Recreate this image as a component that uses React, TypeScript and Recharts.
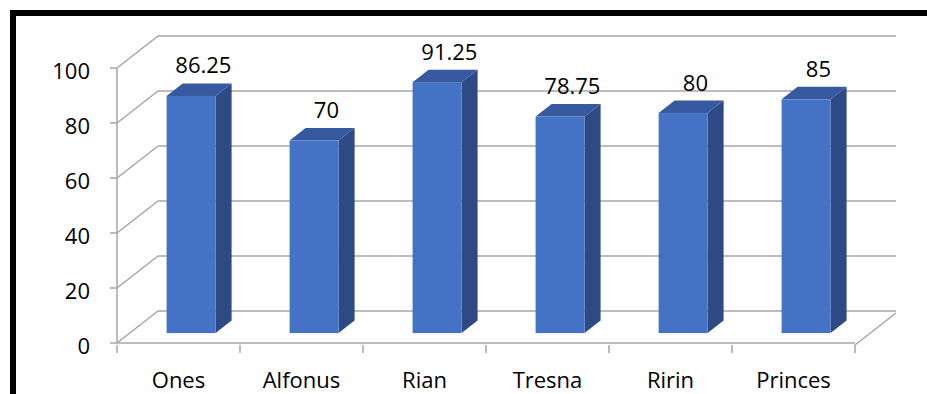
import React from 'react';
import { BarChart, Bar, XAxis, YAxis, CartesianGrid, LabelList } from 'recharts';

const categories = ['Ones', 'Alfonus', 'Rian', 'Tresna', 'Ririn', 'Princes'];
const scores = [86.25, 70, 91.25, 78.75, 80, 85];
const yTicks = [0, 20, 40, 60, 80, 100];

const data = categories.map((name, i) => ({ name, score: scores[i] }));

// 3D depth vector (front plane -> back wall)
const DX = 41;
const DY = -32;
const BAR_F = 0.31; // bar front face position in depth
const BAR_D = 0.39; // bar depth
const GRID = '#A6A6A6';
const FONT = '"Open Sans", Calibri, Carlito, sans-serif';
const FS = 22;
const FRONT = '#4472C4';
const TOP = '#3759A0';
const SIDE = '#2D4A85';

const Bar3D = (props: any) => {
  const { x, y, width, height } = props;
  if (!height || height <= 0) return null;
  const fx = x + DX * BAR_F;
  const fy = y + DY * BAR_F;
  const dx = DX * BAR_D;
  const dy = DY * BAR_D;
  const b = fy + height;
  return (
    <g>
      <polygon
        points={`${fx + width},${fy} ${fx + width + dx},${fy + dy} ${fx + width + dx},${b + dy} ${fx + width},${b}`}
        fill={SIDE}
      />
      <polygon
        points={`${fx},${fy} ${fx + dx},${fy + dy} ${fx + width + dx},${fy + dy} ${fx + width},${fy}`}
        fill={TOP}
      />
      <rect x={fx} y={fy} width={width} height={height} fill={FRONT} />
    </g>
  );
};

const gridLine = (p: any) => {
  const { x1, y1, x2 } = p;
  return (
    <g key={`gl-${p.index}-${y1}`}>
      <line x1={x1} y1={y1} x2={x1 + DX} y2={y1 + DY} stroke={GRID} strokeWidth={1.5} />
      <line x1={x1 + DX} y1={y1 + DY} x2={x2 + DX} y2={y1 + DY} stroke={GRID} strokeWidth={1.5} />
    </g>
  );
};

const XTick = (p: any) => {
  const { x, y, payload, index } = p;
  const half = payload && payload.offset ? payload.offset : p.width / categories.length / 2;
  const last = index === categories.length - 1;
  return (
    <g>
      <line x1={x - half} y1={y} x2={x - half} y2={y + 8} stroke={GRID} strokeWidth={1.5} />
      {last && (
        <g>
          <line x1={x + half} y1={y} x2={x + half} y2={y + 8} stroke={GRID} strokeWidth={1.5} />
          <line x1={x + half} y1={y} x2={x + half + DX} y2={y + DY} stroke={GRID} strokeWidth={1.5} />
        </g>
      )}
      <text x={x} y={y + 43} textAnchor="middle" fontFamily={FONT} fontSize={FS} fill="#000">
        {payload.value}
      </text>
    </g>
  );
};

const YTick = (p: any) => {
  const { x, y, payload } = p;
  return (
    <text x={x} y={y + 10.5} textAnchor="end" fontFamily={FONT} fontSize={FS} fill="#000">
      {payload.value}
    </text>
  );
};

const ValueLabel = (p: any) => {
  const { x, y, width, value } = p;
  return (
    <text x={x + width / 2 + 25} y={y - 32.5} textAnchor="middle" fontFamily={FONT} fontSize={FS} fill="#000">
      {value}
    </text>
  );
};

export default function App() {
  return (
    <div style={{ position: 'absolute', left: 0, top: 0, width: 927, height: 394, overflow: 'hidden', background: '#fff' }}>
      <div
        style={{
          position: 'absolute',
          left: 10,
          top: 10,
          width: 1000,
          height: 1000,
          border: '6px solid #000',
          boxSizing: 'border-box',
        }}
      />
      <div style={{ position: 'absolute', left: 0, top: 0 }}>
        <BarChart
          width={927}
          height={394}
          data={data}
          margin={{ top: 68, right: 72, bottom: 0, left: 0 }}
          barCategoryGap="30%"
        >
          <CartesianGrid horizontal={gridLine} vertical={false} />
          <XAxis
            dataKey="name"
            height={51}
            tickLine={false}
            tickSize={0}
            axisLine={{ stroke: GRID, strokeWidth: 1.5 }}
            tick={<XTick />}
            interval={0}
          />
          <YAxis
            width={117}
            domain={[0, 100]}
            ticks={yTicks}
            tickSize={7}
            tickMargin={20}
            tickLine={{ stroke: GRID, strokeWidth: 1.5 }}
            axisLine={{ stroke: GRID, strokeWidth: 1.5 }}
            tick={<YTick />}
            interval={0}
          />
          <Bar dataKey="score" shape={<Bar3D />} isAnimationActive={false}>
            <LabelList dataKey="score" content={<ValueLabel />} />
          </Bar>
        </BarChart>
      </div>
    </div>
  );
}
